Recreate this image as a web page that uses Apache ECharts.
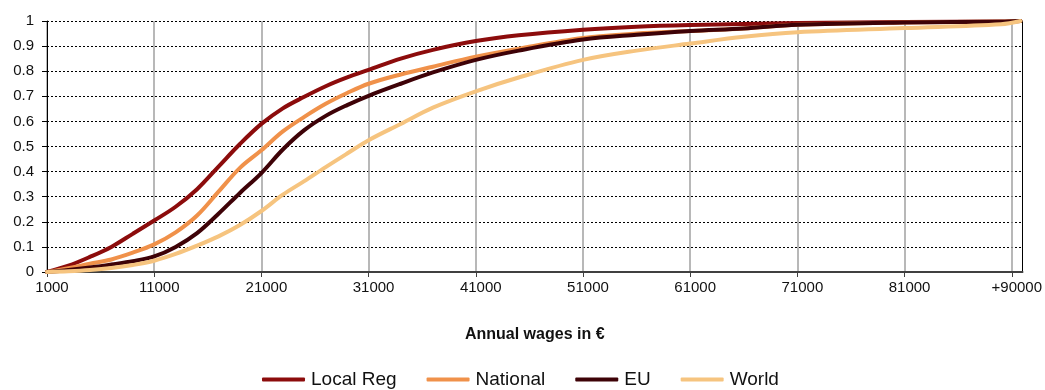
<!DOCTYPE html>
<html>
<head>
<meta charset="utf-8">
<script src="https://cdn.jsdelivr.net/npm/echarts@6/dist/echarts.min.js"></script>
<style>html,body{margin:0;padding:0;background:#fff}#c{width:1045px;height:390px}</style>
</head>
<body>
<div id="c"></div>
<script>
const wages = [1000, 3000, 5000, 7000, 9000, 11000, 13000, 15000, 17000, 19000, 21000, 23000, 25000, 27000, 29000, 31000, 34000, 37000, 41000, 45000, 51000, 56000, 61000, 66000, 71000, 81000, 90000, 91800];
const localReg = [0, 0.025, 0.06, 0.1, 0.152, 0.205, 0.26, 0.33, 0.42, 0.51, 0.59, 0.652, 0.698, 0.74, 0.775, 0.805, 0.85, 0.885, 0.92, 0.943, 0.965, 0.977, 0.984, 0.988, 0.992, 0.996, 0.998, 1];
const national = [0, 0.015, 0.033, 0.05, 0.077, 0.11, 0.158, 0.225, 0.32, 0.415, 0.485, 0.56, 0.618, 0.67, 0.713, 0.75, 0.787, 0.818, 0.858, 0.89, 0.932, 0.95, 0.96, 0.97, 0.985, 0.994, 0.997, 1];
const eu = [0, 0.008, 0.018, 0.03, 0.043, 0.062, 0.1, 0.155, 0.232, 0.315, 0.394, 0.488, 0.565, 0.622, 0.665, 0.702, 0.75, 0.795, 0.845, 0.882, 0.926, 0.945, 0.96, 0.97, 0.985, 0.994, 0.997, 1];
const world = [0, 0.003, 0.008, 0.016, 0.028, 0.045, 0.072, 0.105, 0.142, 0.187, 0.243, 0.308, 0.362, 0.418, 0.472, 0.525, 0.59, 0.655, 0.72, 0.775, 0.845, 0.882, 0.91, 0.937, 0.955, 0.972, 0.987, 1];
const seriesNames = ['Local Reg', 'National', 'EU', 'World'];
const seriesColors = ['#8c0c0c', '#f0914a', '#3e0207', '#f6c47f'];
const xTickLabels = {1000:'1000', 11000:'11000', 21000:'21000', 31000:'31000', 41000:'41000', 51000:'51000', 61000:'61000', 71000:'71000', 81000:'81000', 91000:'+90000'};
const xAxisTitle = 'Annual wages in €';

const values = [localReg, national, eu, world];
const font = '"Liberation Sans", Arial, sans-serif';
const xTickValues = Object.keys(xTickLabels).map(Number);
const chart = echarts.init(document.getElementById('c'), null, {renderer: 'canvas'});
chart.setOption({
  animation: false,
  textStyle: {fontFamily: font},
  grid: {left: 47, right: 22, top: 21, bottom: 118, containLabel: false},
  legend: {
    left: 262, top: 370, padding: 0, itemWidth: 43, itemHeight: 4, itemGap: 30,
    icon: 'roundRect',
    textStyle: {fontFamily: font, fontSize: 19, color: '#111', padding: [0, 0, 0, 1]},
    data: seriesNames
  },
  xAxis: {
    type: 'value', min: 1000, max: 92000, interval: 10000,
    name: xAxisTitle, nameLocation: 'middle', nameGap: 55,
    nameTextStyle: {fontFamily: font, fontSize: 16, fontWeight: 'bold', color: '#111'},
    axisLine: {show: true, lineStyle: {color: '#404040', width: 2}},
    axisTick: {show: true, length: 5, lineStyle: {color: '#404040', width: 1}, customValues: xTickValues},
    axisLabel: {fontFamily: font, fontSize: 15, color: '#111', margin: 8, padding: [0, 0, 0, 10],
      customValues: xTickValues,
      formatter: v => xTickLabels[v] || ''},
    splitLine: {show: true, lineStyle: {color: '#a0a0a0', width: 1.5}}
  },
  yAxis: [{
    type: 'value', min: 0, max: 1, interval: 0.1,
    axisLine: {show: true, lineStyle: {color: '#000', width: 1}},
    axisTick: {show: true, length: 5, lineStyle: {color: '#000'}},
    axisLabel: {fontFamily: font, fontSize: 15, color: '#111', margin: 13,
      formatter: v => String(Math.round(v * 10) / 10)},
    splitLine: {show: true, lineStyle: {color: '#000', width: 1, type: [2, 2]}}
  }, {
    type: 'value', min: 0, max: 1, position: 'right',
    axisLine: {show: true, onZero: false, lineStyle: {color: '#000', width: 1}},
    axisTick: {show: false}, axisLabel: {show: false}, splitLine: {show: false}
  }],
  series: seriesNames.map((n, i) => ({
    name: n, type: 'line', data: wages.map((w, j) => [w, values[i][j]]),
    showSymbol: false, symbol: 'none', smooth: 0.35,
    lineStyle: {color: seriesColors[i], width: 4, cap: 'round', join: 'round'},
    itemStyle: {color: seriesColors[i]},
    clip: false
  }))
});
</script>
</body>
</html>
